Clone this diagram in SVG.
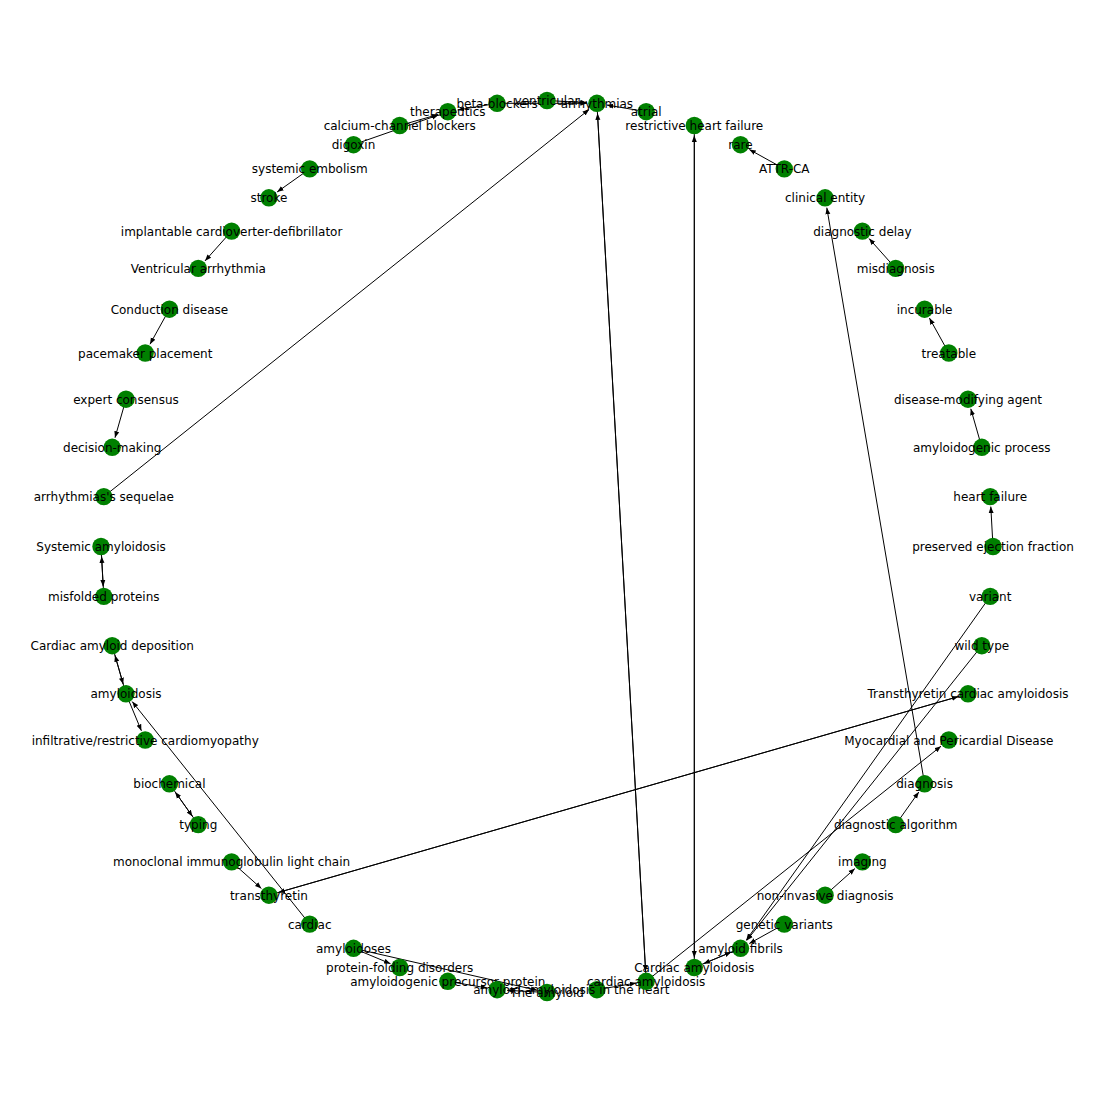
<svg xmlns="http://www.w3.org/2000/svg" width="1094" height="1094" viewBox="0 0 1094 1094">
<style>
.bg{fill:#ffffff}
.e{stroke:#000000;stroke-width:1;fill:none;marker-end:url(#ah)}
.node circle{fill:#008000}
.node text{font-family:"DejaVu Sans","Liberation Sans",sans-serif;font-size:12px;fill:#000000;text-anchor:middle}
</style>
<defs>
<marker id="ah" markerUnits="userSpaceOnUse" markerWidth="7" markerHeight="6" refX="6.5" refY="2.5" orient="auto" viewBox="0 0 7 5">
<path d="M0,0 L6.5,2.5 L0,5 z" fill="#000000"/>
</marker>
</defs>
<rect class="bg" x="0" y="0" width="1094" height="1094"/>
<g id="edges">
<line class="e" x1="993.0" y1="546.5" x2="990.8" y2="506.6"/>
<line class="e" x1="981.8" y1="447.3" x2="970.8" y2="408.8"/>
<line class="e" x1="948.8" y1="353.0" x2="929.4" y2="318.0"/>
<line class="e" x1="895.7" y1="268.4" x2="869.1" y2="238.6"/>
<line class="e" x1="784.3" y1="168.9" x2="749.3" y2="149.5"/>
<line class="e" x1="924.6" y1="783.8" x2="826.8" y2="207.7"/>
<line class="e" x1="895.7" y1="824.6" x2="918.8" y2="792.0"/>
<line class="e" x1="646.2" y1="981.3" x2="941.0" y2="746.2"/>
<line class="e" x1="990.2" y1="596.4" x2="746.3" y2="940.1"/>
<line class="e" x1="981.8" y1="645.7" x2="746.7" y2="940.5"/>
<line class="e" x1="784.3" y1="924.1" x2="749.3" y2="943.5"/>
<line class="e" x1="740.5" y1="948.3" x2="703.5" y2="963.7"/>
<line class="e" x1="694.3" y1="967.5" x2="731.3" y2="952.1"/>
<line class="e" x1="825.1" y1="895.2" x2="854.9" y2="868.6"/>
<line class="e" x1="694.3" y1="967.5" x2="694.3" y2="135.5"/>
<line class="e" x1="694.3" y1="125.5" x2="694.3" y2="957.5"/>
<line class="e" x1="596.9" y1="103.3" x2="645.6" y2="971.3"/>
<line class="e" x1="646.2" y1="981.3" x2="597.5" y2="113.3"/>
<line class="e" x1="103.8" y1="496.6" x2="589.1" y2="109.5"/>
<line class="e" x1="547.0" y1="100.5" x2="586.9" y2="102.7"/>
<line class="e" x1="646.2" y1="111.7" x2="606.8" y2="105.0"/>
<line class="e" x1="497.1" y1="103.3" x2="586.9" y2="103.3"/>
<line class="e" x1="497.1" y1="103.3" x2="457.7" y2="110.0"/>
<line class="e" x1="399.7" y1="125.5" x2="438.2" y2="114.5"/>
<line class="e" x1="353.5" y1="144.7" x2="438.4" y2="115.0"/>
<line class="e" x1="309.7" y1="168.9" x2="277.1" y2="192.0"/>
<line class="e" x1="231.6" y1="231.1" x2="205.0" y2="260.9"/>
<line class="e" x1="169.4" y1="309.2" x2="150.0" y2="344.2"/>
<line class="e" x1="126.0" y1="399.2" x2="115.0" y2="437.7"/>
<line class="e" x1="101.0" y1="546.5" x2="103.2" y2="586.4"/>
<line class="e" x1="103.8" y1="596.4" x2="101.6" y2="556.5"/>
<line class="e" x1="112.2" y1="645.7" x2="123.2" y2="684.2"/>
<line class="e" x1="126.0" y1="693.8" x2="115.0" y2="655.3"/>
<line class="e" x1="126.0" y1="693.8" x2="141.4" y2="730.8"/>
<line class="e" x1="309.7" y1="924.1" x2="132.2" y2="701.6"/>
<line class="e" x1="169.4" y1="783.8" x2="192.5" y2="816.4"/>
<line class="e" x1="198.3" y1="824.6" x2="175.2" y2="792.0"/>
<line class="e" x1="231.6" y1="861.9" x2="261.4" y2="888.5"/>
<line class="e" x1="268.9" y1="895.2" x2="958.4" y2="696.6"/>
<line class="e" x1="968.0" y1="693.8" x2="278.5" y2="892.4"/>
<line class="e" x1="353.5" y1="948.3" x2="390.5" y2="963.7"/>
<line class="e" x1="353.5" y1="948.3" x2="537.3" y2="990.3"/>
<line class="e" x1="447.8" y1="981.3" x2="487.2" y2="988.0"/>
<line class="e" x1="547.0" y1="992.5" x2="507.1" y2="990.3"/>
<line class="e" x1="596.9" y1="989.7" x2="636.3" y2="983.0"/>
</g>
<g id="nodes">
<g id="n0" class="node"><circle cx="993.0" cy="546.5" r="8.7"/><text x="993.0" y="551">preserved ejection fraction</text></g>
<g id="n1" class="node"><circle cx="990.2" cy="496.6" r="8.7"/><text x="990.2" y="501.1">heart failure</text></g>
<g id="n2" class="node"><circle cx="981.8" cy="447.3" r="8.7"/><text x="981.8" y="451.8">amyloidogenic process</text></g>
<g id="n3" class="node"><circle cx="968.0" cy="399.2" r="8.7"/><text x="968.0" y="403.7">disease-modifying agent</text></g>
<g id="n4" class="node"><circle cx="948.8" cy="353.0" r="8.7"/><text x="948.8" y="357.5">treatable</text></g>
<g id="n5" class="node"><circle cx="924.6" cy="309.2" r="8.7"/><text x="924.6" y="313.7">incurable</text></g>
<g id="n6" class="node"><circle cx="895.7" cy="268.4" r="8.7"/><text x="895.7" y="272.9">misdiagnosis</text></g>
<g id="n7" class="node"><circle cx="862.4" cy="231.1" r="8.7"/><text x="862.4" y="235.6">diagnostic delay</text></g>
<g id="n8" class="node"><circle cx="825.1" cy="197.8" r="8.7"/><text x="825.1" y="202.3">clinical entity</text></g>
<g id="n9" class="node"><circle cx="784.3" cy="168.9" r="8.7"/><text x="784.3" y="173.4">ATTR-CA</text></g>
<g id="n10" class="node"><circle cx="740.5" cy="144.7" r="8.7"/><text x="740.5" y="149.2">rare</text></g>
<g id="n11" class="node"><circle cx="694.3" cy="125.5" r="8.7"/><text x="694.3" y="130">restrictive heart failure</text></g>
<g id="n12" class="node"><circle cx="646.2" cy="111.7" r="8.7"/><text x="646.2" y="116.2">atrial</text></g>
<g id="n13" class="node"><circle cx="596.9" cy="103.3" r="8.7"/><text x="596.9" y="107.8">arrhythmias</text></g>
<g id="n14" class="node"><circle cx="547.0" cy="100.5" r="8.7"/><text x="547.0" y="105">ventricular</text></g>
<g id="n15" class="node"><circle cx="497.1" cy="103.3" r="8.7"/><text x="497.1" y="107.8">beta-blockers</text></g>
<g id="n16" class="node"><circle cx="447.8" cy="111.7" r="8.7"/><text x="447.8" y="116.2">therapeutics</text></g>
<g id="n17" class="node"><circle cx="399.7" cy="125.5" r="8.7"/><text x="399.7" y="130">calcium-channel blockers</text></g>
<g id="n18" class="node"><circle cx="353.5" cy="144.7" r="8.7"/><text x="353.5" y="149.2">digoxin</text></g>
<g id="n19" class="node"><circle cx="309.7" cy="168.9" r="8.7"/><text x="309.7" y="173.4">systemic embolism</text></g>
<g id="n20" class="node"><circle cx="268.9" cy="197.8" r="8.7"/><text x="268.9" y="202.3">stroke</text></g>
<g id="n21" class="node"><circle cx="231.6" cy="231.1" r="8.7"/><text x="231.6" y="235.6">implantable cardioverter-defibrillator</text></g>
<g id="n22" class="node"><circle cx="198.3" cy="268.4" r="8.7"/><text x="198.3" y="272.9">Ventricular arrhythmia</text></g>
<g id="n23" class="node"><circle cx="169.4" cy="309.2" r="8.7"/><text x="169.4" y="313.7">Conduction disease</text></g>
<g id="n24" class="node"><circle cx="145.2" cy="353.0" r="8.7"/><text x="145.2" y="357.5">pacemaker placement</text></g>
<g id="n25" class="node"><circle cx="126.0" cy="399.2" r="8.7"/><text x="126.0" y="403.7">expert consensus</text></g>
<g id="n26" class="node"><circle cx="112.2" cy="447.3" r="8.7"/><text x="112.2" y="451.8">decision-making</text></g>
<g id="n27" class="node"><circle cx="103.8" cy="496.6" r="8.7"/><text x="103.8" y="501.1">arrhythmias's sequelae</text></g>
<g id="n28" class="node"><circle cx="101.0" cy="546.5" r="8.7"/><text x="101.0" y="551">Systemic amyloidosis</text></g>
<g id="n29" class="node"><circle cx="103.8" cy="596.4" r="8.7"/><text x="103.8" y="600.9">misfolded proteins</text></g>
<g id="n30" class="node"><circle cx="112.2" cy="645.7" r="8.7"/><text x="112.2" y="650.2">Cardiac amyloid deposition</text></g>
<g id="n31" class="node"><circle cx="126.0" cy="693.8" r="8.7"/><text x="126.0" y="698.3">amyloidosis</text></g>
<g id="n32" class="node"><circle cx="145.2" cy="740.0" r="8.7"/><text x="145.2" y="744.5">infiltrative/restrictive cardiomyopathy</text></g>
<g id="n33" class="node"><circle cx="169.4" cy="783.8" r="8.7"/><text x="169.4" y="788.3">biochemical</text></g>
<g id="n34" class="node"><circle cx="198.3" cy="824.6" r="8.7"/><text x="198.3" y="829.1">typing</text></g>
<g id="n35" class="node"><circle cx="231.6" cy="861.9" r="8.7"/><text x="231.6" y="866.4">monoclonal immunoglobulin light chain</text></g>
<g id="n36" class="node"><circle cx="268.9" cy="895.2" r="8.7"/><text x="268.9" y="899.7">transthyretin</text></g>
<g id="n37" class="node"><circle cx="309.7" cy="924.1" r="8.7"/><text x="309.7" y="928.6">cardiac</text></g>
<g id="n38" class="node"><circle cx="353.5" cy="948.3" r="8.7"/><text x="353.5" y="952.8">amyloidoses</text></g>
<g id="n39" class="node"><circle cx="399.7" cy="967.5" r="8.7"/><text x="399.7" y="972">protein-folding disorders</text></g>
<g id="n40" class="node"><circle cx="447.8" cy="981.3" r="8.7"/><text x="447.8" y="985.8">amyloidogenic precursor protein</text></g>
<g id="n41" class="node"><circle cx="497.1" cy="989.7" r="8.7"/><text x="497.1" y="994.2">amyloid</text></g>
<g id="n42" class="node"><circle cx="547.0" cy="992.5" r="8.7"/><text x="547.0" y="997">The amyloid</text></g>
<g id="n43" class="node"><circle cx="596.9" cy="989.7" r="8.7"/><text x="596.9" y="994.2">amyloidosis in the heart</text></g>
<g id="n44" class="node"><circle cx="646.2" cy="981.3" r="8.7"/><text x="646.2" y="985.8">cardiac amyloidosis</text></g>
<g id="n45" class="node"><circle cx="694.3" cy="967.5" r="8.7"/><text x="694.3" y="972">Cardiac amyloidosis</text></g>
<g id="n46" class="node"><circle cx="740.5" cy="948.3" r="8.7"/><text x="740.5" y="952.8">amyloid fibrils</text></g>
<g id="n47" class="node"><circle cx="784.3" cy="924.1" r="8.7"/><text x="784.3" y="928.6">genetic variants</text></g>
<g id="n48" class="node"><circle cx="825.1" cy="895.2" r="8.7"/><text x="825.1" y="899.7">non-invasive diagnosis</text></g>
<g id="n49" class="node"><circle cx="862.4" cy="861.9" r="8.7"/><text x="862.4" y="866.4">imaging</text></g>
<g id="n50" class="node"><circle cx="895.7" cy="824.6" r="8.7"/><text x="895.7" y="829.1">diagnostic algorithm</text></g>
<g id="n51" class="node"><circle cx="924.6" cy="783.8" r="8.7"/><text x="924.6" y="788.3">diagnosis</text></g>
<g id="n52" class="node"><circle cx="948.8" cy="740.0" r="8.7"/><text x="948.8" y="744.5">Myocardial and Pericardial Disease</text></g>
<g id="n53" class="node"><circle cx="968.0" cy="693.8" r="8.7"/><text x="968.0" y="698.3">Transthyretin cardiac amyloidosis</text></g>
<g id="n54" class="node"><circle cx="981.8" cy="645.7" r="8.7"/><text x="981.8" y="650.2">wild type</text></g>
<g id="n55" class="node"><circle cx="990.2" cy="596.4" r="8.7"/><text x="990.2" y="600.9">variant</text></g>
</g>
</svg>
